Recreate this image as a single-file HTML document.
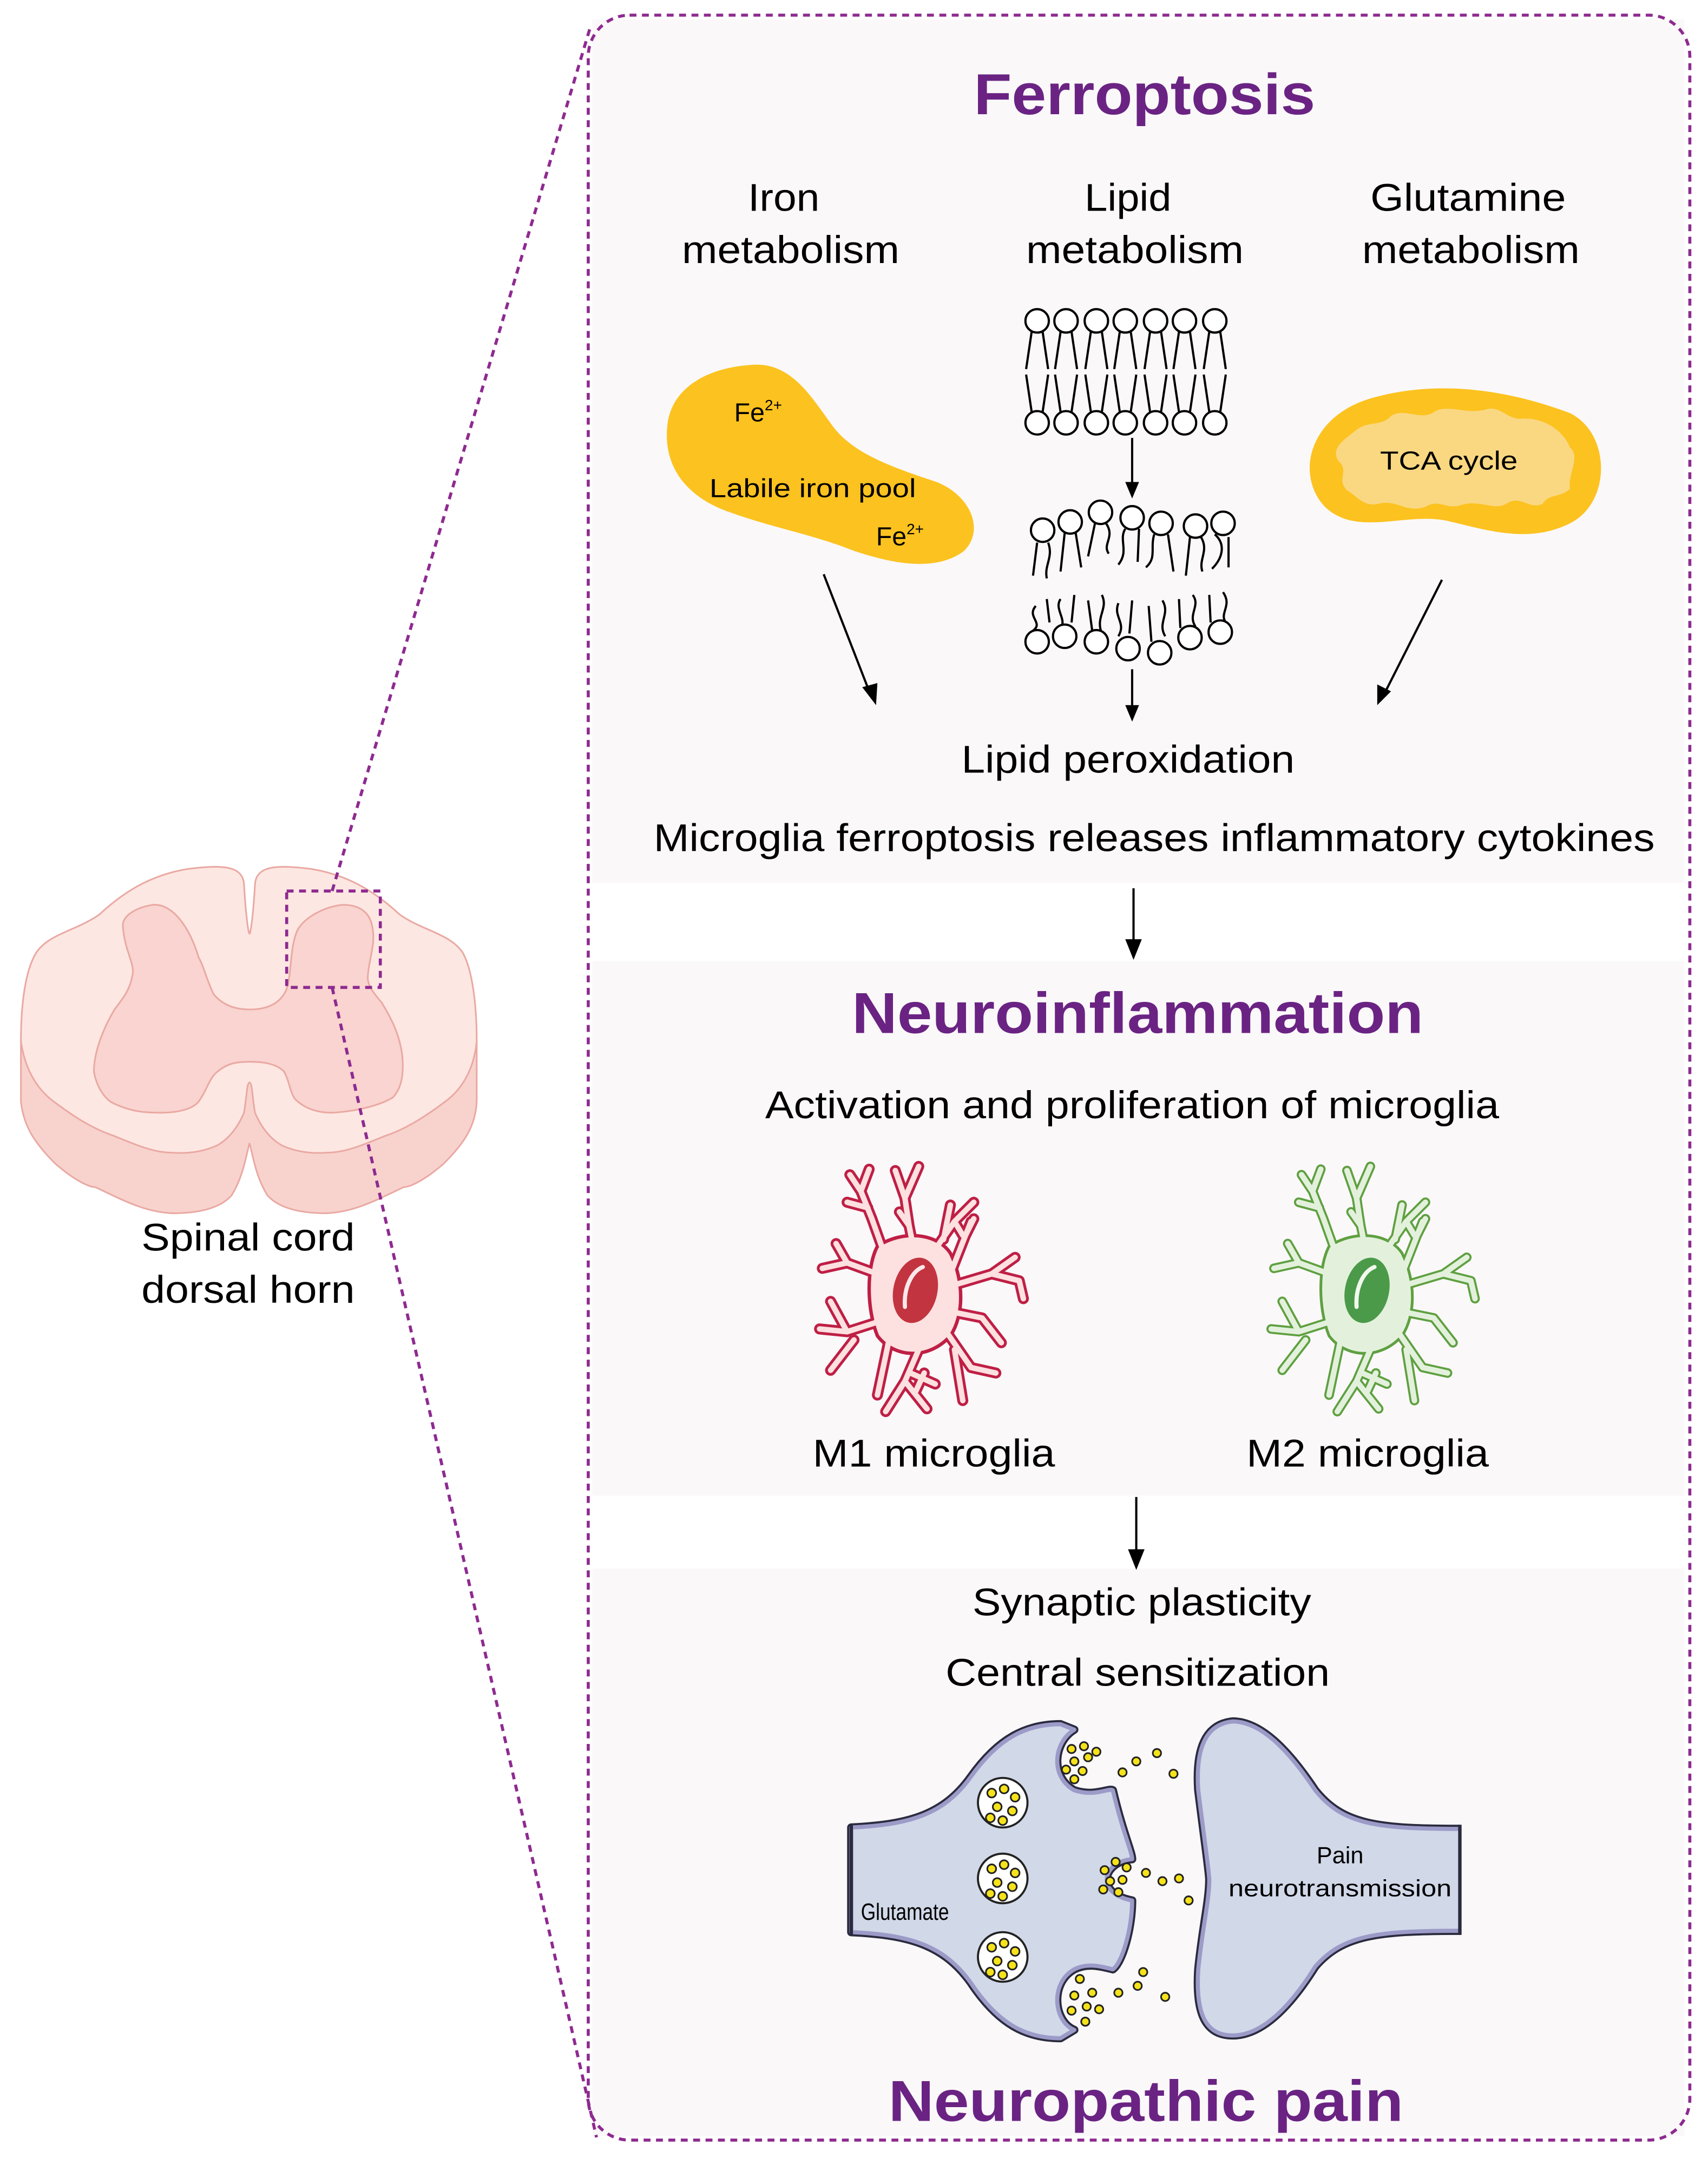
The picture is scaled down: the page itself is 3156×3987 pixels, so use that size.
<!DOCTYPE html>
<html><head><meta charset="utf-8"><style>
html,body{margin:0;padding:0;background:#fff;}
svg{display:block;}
text{font-family:"Liberation Sans",Arial,sans-serif;}
</style></head><body>
<svg width="3156" height="3987" viewBox="0 0 1240 1567" xmlns="http://www.w3.org/2000/svg">
<rect width="1240" height="1567" fill="#fff"/>
<!-- panels -->
<rect x="430" y="14" width="793" height="627" fill="#faf8f9"/>
<rect x="430" y="698" width="793" height="388" fill="#faf8f9"/>
<rect x="430" y="1139" width="793" height="412" fill="#faf8f9"/>
<rect x="427" y="11" width="800" height="1543" rx="30" fill="none" stroke="#8e2a90" stroke-width="2.2" stroke-dasharray="5,4"/>

<!-- spinal cord -->
<g stroke="#eaa9a3" stroke-width="1.2">
<path d="M15,756 L15,800 C17,818 25,830 40,845 C55,858 65,862 69,862 C90,872 105,880 125,881 C145,881 160,877 168,868 C176,855 178,842 181,830 C184,842 186,855 194,868 C202,877 217,881 237,881 C257,880 272,872 293,862 C297,862 307,858 322,845 C337,830 345,818 346,800 L346,756 Z" fill="#f8d3ce"/>
<path d="M177,642 C176,628 160,628 136,631 C105,636 85,652 72,664 C55,676 35,678 26,692 C18,705 15,730 15,756 C18,778 28,792 39,800 C55,812 68,820 83,825 C100,832 112,837 125,837 C140,838 150,835 157,832 C168,826 174,815 177,808 C179,797 179,786 181,786 C183,786 183,797 185,808 C188,815 194,826 205,832 C212,835 222,838 237,837 C250,837 262,832 279,825 C294,820 307,812 323,800 C334,792 344,778 346,756 C346,730 343,705 336,692 C327,678 307,676 290,664 C277,652 257,636 226,631 C202,628 186,628 185,642 C184,660 182,678 181,678 C180,678 178,660 177,642 Z" fill="#fde7e2"/>
<path d="M111,657 C98,659 89,665 89,672 C90,690 98,700 96,708 C94,720 88,726 83,733 C74,748 68,765 68,778 C70,790 76,797 80,800 C95,808 108,808 116,808 C130,808 140,805 144,800 C150,792 152,782 158,778 C165,772 172,771 181,771 C190,771 200,772 206,778 C210,785 210,792 214,798 C222,806 232,808 241,808 C258,807 275,803 285,797 C292,790 293,778 292,767 C290,750 283,738 277,728 C270,720 266,714 267,708 C268,695 273,685 270,672 C268,662 260,657 249,657 C237,658 222,665 216,675 C210,688 212,705 208,718 C204,728 195,733 181,733 C168,733 160,728 155,722 C150,712 148,702 144,695 C138,675 126,656 111,657 Z" fill="#f9d4d0"/>
</g>
<rect x="208" y="647" width="68" height="70" fill="none" stroke="#8e2a90" stroke-width="2.2" stroke-dasharray="5,4"/>
<line x1="241" y1="647" x2="429" y2="18" stroke="#8e2a90" stroke-width="2.2" stroke-dasharray="5,4"/>
<line x1="241" y1="717" x2="433" y2="1552" stroke="#8e2a90" stroke-width="2.2" stroke-dasharray="5,4"/>
<text x="180" y="908" font-size="28" text-anchor="middle" textLength="155" lengthAdjust="spacingAndGlyphs">Spinal cord</text>
<text x="180" y="946" font-size="28" text-anchor="middle" textLength="155" lengthAdjust="spacingAndGlyphs">dorsal horn</text>

<!-- titles -->
<g fill="#6a2383" font-weight="bold" text-anchor="middle">
<text x="831" y="83" font-size="42" textLength="248" lengthAdjust="spacingAndGlyphs">Ferroptosis</text>
<text x="826" y="750" font-size="42" textLength="415" lengthAdjust="spacingAndGlyphs">Neuroinflammation</text>
<text x="832" y="1540" font-size="42" textLength="374" lengthAdjust="spacingAndGlyphs">Neuropathic pain</text>
</g>
<g font-size="28" text-anchor="middle" fill="#000">
<text x="569" y="153" textLength="52" lengthAdjust="spacingAndGlyphs">Iron</text>
<text x="574" y="191" textLength="158" lengthAdjust="spacingAndGlyphs">metabolism</text>
<text x="819" y="153" textLength="63" lengthAdjust="spacingAndGlyphs">Lipid</text>
<text x="824" y="191" textLength="158" lengthAdjust="spacingAndGlyphs">metabolism</text>
<text x="1066" y="153" textLength="142" lengthAdjust="spacingAndGlyphs">Glutamine</text>
<text x="1068" y="191" textLength="158" lengthAdjust="spacingAndGlyphs">metabolism</text>
<text x="819" y="561" textLength="242" lengthAdjust="spacingAndGlyphs">Lipid peroxidation</text>
<text x="838" y="618" textLength="727" lengthAdjust="spacingAndGlyphs">Microglia ferroptosis releases inflammatory cytokines</text>
<text x="822" y="812" textLength="533" lengthAdjust="spacingAndGlyphs">Activation and proliferation of microglia</text>
<text x="678" y="1065" textLength="176" lengthAdjust="spacingAndGlyphs">M1 microglia</text>
<text x="993" y="1065" textLength="176" lengthAdjust="spacingAndGlyphs">M2 microglia</text>
<text x="829" y="1173" textLength="246" lengthAdjust="spacingAndGlyphs">Synaptic plasticity</text>
<text x="826" y="1224" textLength="279" lengthAdjust="spacingAndGlyphs">Central sensitization</text>
</g>

<!-- iron blob -->
<path d="M545,265 C575,262 590,290 605,310 C620,330 650,340 680,350 C705,360 715,385 700,400 C680,415 650,410 620,400 C590,388 560,383 530,372 C495,360 480,335 485,305 C490,280 515,267 545,265 Z" fill="#fcc21f"/>
<text x="533" y="306" font-size="19">Fe<tspan font-size="11" dy="-8">2+</tspan></text>
<text x="515" y="361" font-size="19" textLength="150" lengthAdjust="spacingAndGlyphs">Labile iron pool</text>
<text x="636" y="396" font-size="19">Fe<tspan font-size="11" dy="-8">2+</tspan></text>

<!-- mitochondria -->
<path d="M1000,288 C1050,275 1100,285 1140,300 C1170,315 1170,365 1140,380 C1110,395 1080,385 1050,378 C1020,372 985,390 962,368 C940,345 950,300 1000,288 Z" fill="#fcc21f"/>
<path d="M985,312 C995,305 1003,310 1010,302 C1020,296 1030,305 1040,300 C1050,292 1065,302 1080,297 C1090,295 1095,305 1105,304 C1120,303 1135,312 1140,325 C1148,332 1138,345 1140,355 C1132,362 1125,358 1120,366 C1110,370 1105,360 1095,365 C1085,372 1075,362 1060,367 C1050,370 1045,362 1035,368 C1020,373 1015,362 1000,366 C990,368 985,360 978,356 C970,348 980,342 972,335 C965,325 978,318 985,312 Z" fill="#fad882"/>
<text x="1052" y="341" font-size="19" text-anchor="middle" textLength="100" lengthAdjust="spacingAndGlyphs">TCA cycle</text>

<!-- membranes -->
<g stroke="#000" stroke-width="1.6" fill="none">
<path d="M749,241 L745,268 M757,241 L761,268 M770,241 L766,268 M778,241 L782,268 M792,241 L788,268 M800,241 L804,268 M813,241 L809,268 M821,241 L825,268 M835,241 L831,268 M843,241 L847,268 M856,241 L852,268 M864,241 L868,268 M878,241 L874,268 M886,241 L890,268"/>
<path d="M745,272 L749,299 M761,272 L757,299 M766,272 L770,299 M782,272 L778,299 M788,272 L792,299 M804,272 L800,299 M809,272 L813,299 M825,272 L821,299 M831,272 L835,299 M847,272 L843,299 M852,272 L856,299 M868,272 L864,299 M874,272 L878,299 M890,272 L886,299"/>
<path d="M822,318 L822,358"/>
<path d="M822,486 L822,520"/>
<path d="M598,417 L633,507"/>
<path d="M1047,421 L1003,508"/>
<path d="M823,645 L823,692"/>
<path d="M825,1087 L825,1135"/>
<path d="M753,394 L750,418 M761,394 C765,405 758,410 760,420"/>
<path d="M773,387 L770,415 M781,387 L785,412"/>
<path d="M795,380 L790,404 M803,380 C810,390 800,395 805,402"/>
<path d="M817,384 C812,392 820,400 812,410 M827,384 L826,408"/>
<path d="M838,388 C835,398 840,405 832,412 M848,388 L852,415"/>
<path d="M864,390 L861,418 M872,390 C878,400 870,406 873,415"/>
<path d="M882,388 C890,395 888,405 880,413 M892,390 L892,412"/>
<path d="M752,440 C745,448 758,452 750,458 M760,435 L762,452"/>
<path d="M770,435 C765,442 775,450 770,456 M780,432 L778,452"/>
<path d="M790,436 L793,458 M800,432 C805,442 795,448 800,460"/>
<path d="M812,438 C808,448 818,452 812,462 M822,436 L820,460"/>
<path d="M834,440 L836,466 M844,436 C850,446 840,452 846,462"/>
<path d="M856,435 L857,456 M866,432 C872,440 862,446 868,455"/>
<path d="M878,432 L879,452 M888,430 C895,440 885,445 890,452"/>
</g>
<g stroke="#000" stroke-width="1.6" fill="#fff">
<circle cx="753" cy="233" r="8.5"/><circle cx="774" cy="233" r="8.5"/><circle cx="796" cy="233" r="8.5"/><circle cx="817" cy="233" r="8.5"/><circle cx="839" cy="233" r="8.5"/><circle cx="860" cy="233" r="8.5"/><circle cx="882" cy="233" r="8.5"/>
<circle cx="753" cy="307" r="8.5"/><circle cx="774" cy="307" r="8.5"/><circle cx="796" cy="307" r="8.5"/><circle cx="817" cy="307" r="8.5"/><circle cx="839" cy="307" r="8.5"/><circle cx="860" cy="307" r="8.5"/><circle cx="882" cy="307" r="8.5"/>
<circle cx="757" cy="385" r="8.5"/><circle cx="777" cy="379" r="8.5"/><circle cx="799" cy="372" r="8.5"/><circle cx="822" cy="376" r="8.5"/><circle cx="843" cy="380" r="8.5"/><circle cx="868" cy="382" r="8.5"/><circle cx="888" cy="380" r="8.5"/>
<circle cx="753" cy="466" r="8.5"/><circle cx="773" cy="462" r="8.5"/><circle cx="796" cy="466" r="8.5"/><circle cx="819" cy="471" r="8.5"/><circle cx="842" cy="474" r="8.5"/><circle cx="864" cy="463" r="8.5"/><circle cx="886" cy="459" r="8.5"/>
</g>
<g fill="#000">
<path d="M822,362 L817,350 L827,350 Z"/>
<path d="M822,524 L817,512 L827,512 Z"/>
<path d="M636,512 L626,499 L637,496 Z"/>
<path d="M1000,512 L1000,497 L1010,502 Z"/>
<path d="M823,697 L817,682 L829,682 Z"/>
<path d="M825,1140 L819,1125 L831,1125 Z"/>
</g>

<!-- microglia -->
<defs>
<g id="br">
<path d="M0,-20 L-5,-45 L-8,-65 L-15,-85 M-8,-65 L2,-88 M-5,-45 L-12,-55"/>
<path d="M12,-25 L28,-48 L42,-62 M28,-48 L34,-38 M20,-35 L25,-60"/>
<path d="M-22,-22 L-32,-50 L-40,-70 L-48,-82 M-40,-70 L-34,-86 M-35,-58 L-50,-62"/>
<path d="M-28,-10 L-50,-18 L-68,-14 M-50,-18 L-58,-32"/>
<path d="M25,-10 L36,-38 L42,-50 M36,-38 L40,-48 M28,-2 L55,-10 L75,-5 M55,-10 L72,-22 M75,-5 L78,8"/>
<path d="M-28,25 L-50,32 L-70,30 M-50,32 L-62,10 M-45,38 L-62,60"/>
<path d="M-20,40 L-28,78"/>
<path d="M2,45 L-8,68 L-22,90 M-8,68 L8,88 M-4,62 L14,70 M0,75 L6,62"/>
<path d="M22,32 L40,58 L58,62 M28,45 L34,82"/>
<path d="M28,18 L48,22 L62,40"/>
</g>
<path id="bd" d="M-28,-30 C-10,-42 15,-40 25,-25 C35,-5 35,20 25,35 C10,52 -15,52 -28,35 C-36,15 -36,-15 -28,-30Z"/>
</defs>
<g transform="translate(665,935)">
<use href="#br" stroke="#bf1f45" stroke-width="8" stroke-linecap="round" stroke-linejoin="round" fill="none"/>
<use href="#bd" fill="#fde0e0" stroke="#bf1f45" stroke-width="2.5"/>
<use href="#br" stroke="#fde0e0" stroke-width="4" stroke-linecap="round" stroke-linejoin="round" fill="none"/>
<path d="M-22,-18 L15,-22 L20,20 L-20,25 Z" fill="#fde0e0"/>
<ellipse cx="0" cy="2" rx="16" ry="24" transform="rotate(12)" fill="#c2343f"/>
<path d="M-8,14 C-9,0 -3,-12 5,-15" stroke="#fbe8ea" stroke-width="3" fill="none" stroke-linecap="round"/>
</g>
<g transform="translate(993,935)">
<use href="#br" stroke="#5fa041" stroke-width="7" stroke-linecap="round" stroke-linejoin="round" fill="none"/>
<use href="#bd" fill="#e3f1dc" stroke="#5fa041" stroke-width="2"/>
<use href="#br" stroke="#e3f1dc" stroke-width="4" stroke-linecap="round" stroke-linejoin="round" fill="none"/>
<path d="M-22,-18 L15,-22 L20,20 L-20,25 Z" fill="#e3f1dc"/>
<ellipse cx="0" cy="2" rx="16" ry="24" transform="rotate(12)" fill="#4b9a4a"/>
<path d="M-8,14 C-9,0 -3,-12 5,-15" stroke="#f2f8ee" stroke-width="3" fill="none" stroke-linecap="round"/>
</g>

<!-- synapse -->
<g stroke-linejoin="round">
<path d="M618,1327 C660,1325 685,1318 705,1290 C725,1262 745,1252 770,1252 L780,1256 C765,1265 762,1290 780,1300 C795,1305 805,1298 808,1300 C815,1330 822,1345 822,1350 C800,1352 795,1375 822,1380 C822,1400 815,1425 808,1430 C800,1428 790,1425 780,1430 C762,1440 765,1468 780,1474 L770,1480 C745,1480 725,1470 705,1440 C685,1412 660,1405 618,1403 Z" fill="#d1d8e8" stroke="#2b2b3f" stroke-width="6"/>
<path d="M618,1327 C660,1325 685,1318 705,1290 C725,1262 745,1252 770,1252 L780,1256 C765,1265 762,1290 780,1300 C795,1305 805,1298 808,1300 C815,1330 822,1345 822,1350 C800,1352 795,1375 822,1380 C822,1400 815,1425 808,1430 C800,1428 790,1425 780,1430 C762,1440 765,1468 780,1474 L770,1480 C745,1480 725,1470 705,1440 C685,1412 660,1405 618,1403 Z" fill="#d1d8e8" stroke="#9c9bc8" stroke-width="3"/>
<path d="M1060,1328 C1000,1328 975,1325 955,1300 C935,1270 915,1250 895,1250 C875,1252 868,1270 870,1300 C875,1340 878,1360 878,1365 C878,1380 873,1400 870,1430 C868,1462 875,1478 895,1478 C915,1478 935,1460 955,1428 C975,1405 1000,1402 1060,1402" fill="#d1d8e8" stroke="#2b2b3f" stroke-width="6"/>
<path d="M1060,1328 C1000,1328 975,1325 955,1300 C935,1270 915,1250 895,1250 C875,1252 868,1270 870,1300 C875,1340 878,1360 878,1365 C878,1380 873,1400 870,1430 C868,1462 875,1478 895,1478 C915,1478 935,1460 955,1428 C975,1405 1000,1402 1060,1402" fill="#d1d8e8" stroke="#9c9bc8" stroke-width="3"/>
<line x1="1060" y1="1325" x2="1060" y2="1405" stroke="#2b2b3f" stroke-width="2.5"/>
<line x1="618" y1="1325" x2="618" y2="1405" stroke="#2b2b3f" stroke-width="2.5"/>
</g>
<g stroke="#222" stroke-width="1.5" fill="#fff">
<circle cx="728" cy="1309" r="18"/><circle cx="728" cy="1364" r="18"/><circle cx="728" cy="1421" r="18"/>
</g>
<g stroke="#222" stroke-width="1.2" fill="#f5e21a">
<circle cx="720" cy="1302" r="3.2"/><circle cx="729" cy="1299" r="3.2"/><circle cx="737" cy="1305" r="3.2"/><circle cx="724" cy="1312" r="3.2"/><circle cx="735" cy="1315" r="3.2"/><circle cx="719" cy="1320" r="3.2"/><circle cx="728" cy="1322" r="3.2"/>
<circle cx="720" cy="1357" r="3.2"/><circle cx="729" cy="1354" r="3.2"/><circle cx="737" cy="1360" r="3.2"/><circle cx="724" cy="1367" r="3.2"/><circle cx="735" cy="1370" r="3.2"/><circle cx="719" cy="1375" r="3.2"/><circle cx="728" cy="1377" r="3.2"/>
<circle cx="720" cy="1414" r="3.2"/><circle cx="729" cy="1411" r="3.2"/><circle cx="737" cy="1417" r="3.2"/><circle cx="724" cy="1424" r="3.2"/><circle cx="735" cy="1427" r="3.2"/><circle cx="719" cy="1432" r="3.2"/><circle cx="728" cy="1434" r="3.2"/>
<circle cx="778" cy="1270" r="3"/><circle cx="787" cy="1268" r="3"/><circle cx="780" cy="1279" r="3"/><circle cx="790" cy="1276" r="3"/><circle cx="774" cy="1285" r="3"/><circle cx="786" cy="1286" r="3"/><circle cx="796" cy="1272" r="3"/><circle cx="780" cy="1292" r="3"/>
<circle cx="815" cy="1287" r="3"/><circle cx="825" cy="1279" r="3"/><circle cx="840" cy="1273" r="3"/><circle cx="852" cy="1288" r="3"/>
<circle cx="802" cy="1358" r="3"/><circle cx="810" cy="1352" r="3"/><circle cx="818" cy="1356" r="3"/><circle cx="806" cy="1366" r="3"/><circle cx="815" cy="1365" r="3"/><circle cx="801" cy="1372" r="3"/><circle cx="812" cy="1374" r="3"/>
<circle cx="832" cy="1360" r="3"/><circle cx="844" cy="1366" r="3"/><circle cx="856" cy="1364" r="3"/><circle cx="863" cy="1380" r="3"/>
<circle cx="784" cy="1437" r="3"/><circle cx="793" cy="1447" r="3"/><circle cx="780" cy="1449" r="3"/><circle cx="789" cy="1457" r="3"/><circle cx="778" cy="1460" r="3"/><circle cx="798" cy="1459" r="3"/><circle cx="788" cy="1468" r="3"/>
<circle cx="812" cy="1447" r="3"/><circle cx="826" cy="1442" r="3"/><circle cx="830" cy="1432" r="3"/><circle cx="846" cy="1450" r="3"/>
</g>
<text x="625" y="1394" font-size="17" textLength="64" lengthAdjust="spacingAndGlyphs">Glutamate</text>
<text x="973" y="1353" font-size="17" text-anchor="middle">Pain</text>
<text x="973" y="1377" font-size="17" text-anchor="middle" textLength="162" lengthAdjust="spacingAndGlyphs">neurotransmission</text>
</svg>
</body></html>
